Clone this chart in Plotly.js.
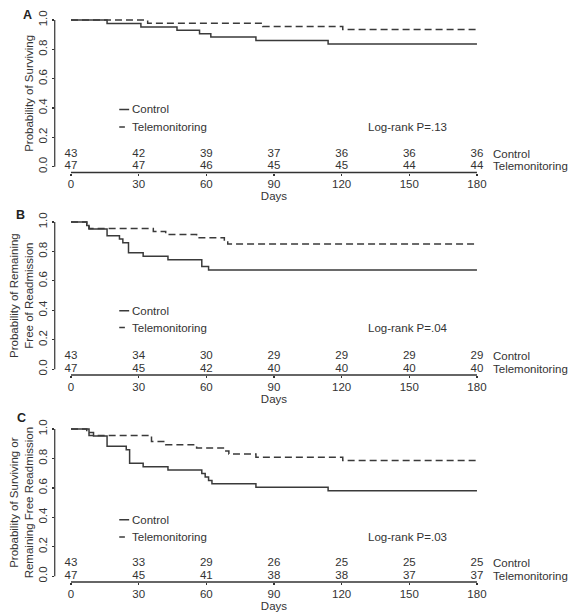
<!DOCTYPE html>
<html>
<head>
<meta charset="utf-8">
<script src="https://cdn.plot.ly/plotly-3.0.1.min.js"></script>
<style>
  html, body { margin: 0; padding: 0; background: #fff; }
  #chart { width: 578px; height: 615px; }
</style>
</head>
<body>
<div id="chart"></div>
<script>
// ---------------- DATA ----------------
const dayTicks = [0, 30, 60, 90, 120, 150, 180];
const probTicks = [0, 0.2, 0.4, 0.6, 0.8, 1.0];
const probTickText = ['0.0', '0.2', '0.4', '0.6', '0.8', '1.0'];
const groupNames = ['Control', 'Telemonitoring'];
const panelLetters = ['A', 'B', 'C'];
const yTitles = [
  'Probability of Surviving',
  'Probability of Remaining<br>Free of Readmission',
  'Probability of Surviving or<br>Remaining Free Readmission'
];
const logRankP = ['Log-rank P=.13', 'Log-rank P=.04', 'Log-rank P=.03'];

// Panel A: survival
const A_ctrlDays = [0, 16, 31, 47, 57, 62, 82, 114, 180];
const A_ctrlProb = [1, 0.977, 0.953, 0.930, 0.907, 0.884, 0.860, 0.837, 0.837];
const A_teleDays = [0, 34, 85, 120.5, 180];
const A_teleProb = [1, 0.979, 0.957, 0.936, 0.936];
const A_ctrlRisk = [43, 42, 39, 37, 36, 36, 36];
const A_teleRisk = [47, 47, 46, 45, 45, 44, 44];

// Panel B: free of readmission
const B_ctrlDays = [0, 7, 8, 16, 21.5, 23, 25.5, 32, 43, 58, 61, 180];
const B_ctrlProb = [1, 0.977, 0.953, 0.907, 0.884, 0.860, 0.791, 0.767, 0.744, 0.698, 0.674, 0.674];
const B_teleDays = [0, 7, 8, 36.5, 42, 55.7, 68, 69.5, 180];
const B_teleProb = [1, 0.979, 0.957, 0.936, 0.915, 0.894, 0.872, 0.851, 0.851];
const B_ctrlRisk = [43, 34, 30, 29, 29, 29, 29];
const B_teleRisk = [47, 45, 42, 40, 40, 40, 40];

// Panel C: surviving or free of readmission
const C_ctrlDays = [0, 8, 10, 16, 24.5, 26, 32, 43, 58, 59.5, 61, 62.5, 82, 114, 180];
const C_ctrlProb = [1, 0.977, 0.953, 0.884, 0.860, 0.767, 0.744, 0.721, 0.698, 0.674, 0.651, 0.628, 0.605, 0.581, 0.581];
const C_teleDays = [0, 7, 8, 35.7, 42, 55.7, 68, 70, 82, 120.5, 180];
const C_teleProb = [1, 0.979, 0.957, 0.915, 0.894, 0.872, 0.851, 0.830, 0.809, 0.787, 0.787];
const C_ctrlRisk = [43, 33, 29, 26, 25, 25, 25];
const C_teleRisk = [47, 45, 41, 38, 38, 37, 37];

// ---------------- BUILD ----------------
const FONT = '"Liberation Sans", Arial, Helvetica, sans-serif';
const INK = '#333333';
const LINE = '#3a3a3a';
const panels = [
  {ctrlX: A_ctrlDays, ctrlY: A_ctrlProb, teleX: A_teleDays, teleY: A_teleProb, ctrlRisk: A_ctrlRisk, teleRisk: A_teleRisk, dom: [0.7195, 0.9769]},
  {ctrlX: B_ctrlDays, ctrlY: B_ctrlProb, teleX: B_teleDays, teleY: B_teleProb, ctrlRisk: B_ctrlRisk, teleRisk: B_teleRisk, dom: [0.3902, 0.6485]},
  {ctrlX: C_ctrlDays, ctrlY: C_ctrlProb, teleX: C_teleDays, teleY: C_teleProb, ctrlRisk: C_ctrlRisk, teleRisk: C_teleRisk, dom: [0.0536, 0.3119]}
];
const letterPos = [[0.0484, 0.9756], [0.0363, 0.6504], [0.0372, 0.3203]];
const legendRows = [[0.39, 0.27], [0.397, 0.283], [0.384, 0.267]];
const riskRows = [0.088, 0.002];

const data = [];
const layout = {
  width: 578, height: 615,
  margin: {l: 0, r: 0, t: 0, b: 0},
  paper_bgcolor: '#fff', plot_bgcolor: 'rgba(0,0,0,0)',
  showlegend: false,
  font: {family: FONT, size: 11.5, color: INK},
  shapes: [], annotations: []
};

panels.forEach((p, i) => {
  const sfx = i === 0 ? '' : String(i + 1);
  const xa = 'x' + sfx, ya = 'y' + sfx;

  data.push({x: p.ctrlX, y: p.ctrlY, xaxis: xa, yaxis: ya, type: 'scatter', mode: 'lines',
    name: groupNames[0], line: {shape: 'hv', color: LINE, width: 1.5}, hoverinfo: 'skip'});
  data.push({x: p.teleX, y: p.teleY, xaxis: xa, yaxis: ya, type: 'scatter', mode: 'lines',
    name: groupNames[1], line: {shape: 'hv', color: LINE, width: 1.5, dash: '7px,4px'}, hoverinfo: 'skip'});
  data.push({x: dayTicks, y: dayTicks.map(() => riskRows[0]), xaxis: xa, yaxis: ya, type: 'scatter', mode: 'text',
    text: p.ctrlRisk.map(String), textposition: 'middle center', cliponaxis: false,
    textfont: {family: FONT, size: 11.5, color: INK}, hoverinfo: 'skip'});
  data.push({x: dayTicks, y: dayTicks.map(() => riskRows[1]), xaxis: xa, yaxis: ya, type: 'scatter', mode: 'text',
    text: p.teleRisk.map(String), textposition: 'middle center', cliponaxis: false,
    textfont: {family: FONT, size: 11.5, color: INK}, hoverinfo: 'skip'});

  layout['xaxis' + sfx] = {
    domain: [0.0947, 0.8533], range: [-7.2, 187.2], anchor: ya,
    showline: false, showgrid: false, zeroline: false,
    tickvals: dayTicks, ticks: 'outside', ticklen: 2, tickwidth: 1.2, tickcolor: INK,
    ticklabelstandoff: -1,
    tickfont: {family: FONT, size: 11.5, color: INK},
    title: {text: 'Days', standoff: 2, font: {family: FONT, size: 11.5, color: INK}}
  };
  layout['yaxis' + sfx] = {
    domain: p.dom, range: [-0.04, 1.04], anchor: xa,
    showline: false, showgrid: false, zeroline: false,
    tickvals: probTicks, ticktext: probTickText, tickangle: -90,
    ticks: 'outside', ticklen: 2, tickwidth: 1.2, tickcolor: INK,
    tickfont: {family: FONT, size: 11.5, color: INK},
    title: {text: yTitles[i], standoff: 1, font: {family: FONT, size: 11.5, color: INK}}
  };

  // R-style axis lines spanning first to last tick
  layout.shapes.push({type: 'line', xref: xa + ' domain', yref: ya + ' domain',
    x0: 7.2 / 194.4, x1: 187.2 / 194.4, y0: 0, y1: 0, line: {color: INK, width: 1.5}});
  layout.shapes.push({type: 'line', xref: xa + ' domain', yref: ya + ' domain',
    x0: 0, x1: 0, y0: 0.04 / 1.08, y1: 1.04 / 1.08, line: {color: INK, width: 1.2}});

  // legend samples
  layout.shapes.push({type: 'line', xref: xa, yref: ya, x0: 21.4, x1: 25.8,
    y0: legendRows[i][0], y1: legendRows[i][0], line: {color: LINE, width: 1.5}});
  layout.shapes.push({type: 'line', xref: xa, yref: ya, x0: 21.4, x1: 23.9,
    y0: legendRows[i][1], y1: legendRows[i][1], line: {color: LINE, width: 1.5}});
  layout.annotations.push({xref: xa, yref: ya, x: 26.0, y: legendRows[i][0], xanchor: 'left', yanchor: 'middle',
    text: groupNames[0], showarrow: false, font: {family: FONT, size: 11.5, color: INK}});
  layout.annotations.push({xref: xa, yref: ya, x: 26.2, y: legendRows[i][1], xanchor: 'left', yanchor: 'middle',
    text: groupNames[1], showarrow: false, font: {family: FONT, size: 11.5, color: INK}});

  // log-rank
  layout.annotations.push({xref: xa, yref: ya, x: 149.3, y: legendRows[i][1], xanchor: 'center', yanchor: 'middle',
    text: logRankP[i], showarrow: false, font: {family: FONT, size: 11.5, color: INK}});

  // number-at-risk row labels
  layout.annotations.push({xref: xa, yref: ya, x: 186.2, y: riskRows[0], xanchor: 'left', yanchor: 'middle',
    text: groupNames[0], showarrow: false, font: {family: FONT, size: 11.5, color: INK}});
  layout.annotations.push({xref: xa, yref: ya, x: 186.2, y: riskRows[1], xanchor: 'left', yanchor: 'middle',
    text: groupNames[1], showarrow: false, font: {family: FONT, size: 11.5, color: INK}});

  // panel letter
  layout.annotations.push({xref: 'paper', yref: 'paper', x: letterPos[i][0], y: letterPos[i][1],
    xanchor: 'center', yanchor: 'middle', text: '<b>' + panelLetters[i] + '</b>', showarrow: false,
    font: {family: FONT, size: 12.5, color: '#222'}});
});

Plotly.newPlot('chart', data, layout, {displayModeBar: false, staticPlot: true});
</script>
</body>
</html>
